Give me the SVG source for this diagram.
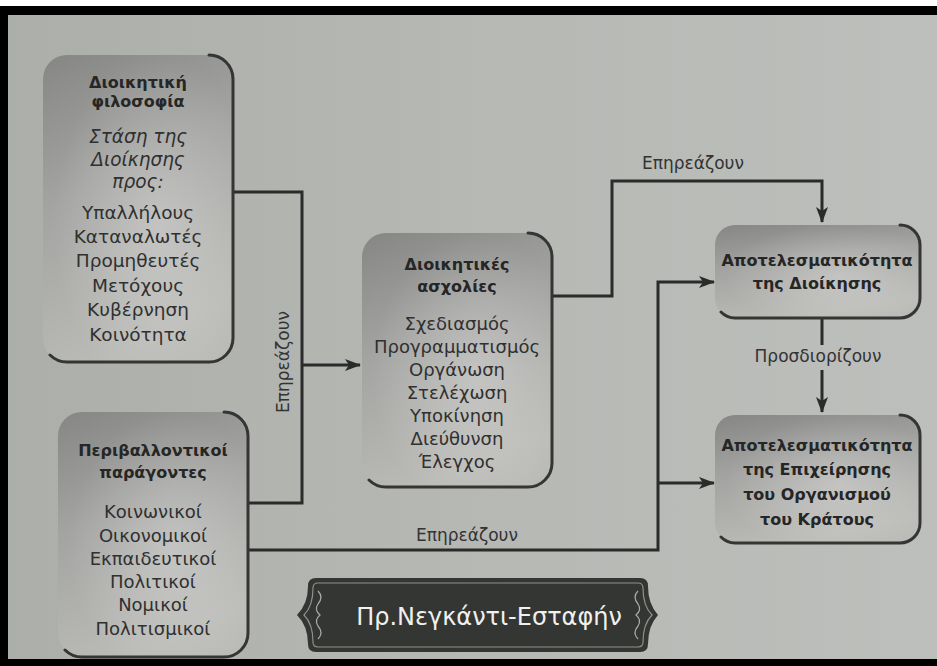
<svg xmlns="http://www.w3.org/2000/svg" width="937" height="666" viewBox="0 0 937 666">
  <defs>
    <linearGradient id="page" x1="0" y1="0" x2="1" y2="0">
      <stop offset="0" stop-color="#acaeaa"/>
      <stop offset="0.5" stop-color="#b6b8b4"/>
      <stop offset="1" stop-color="#bcbfbb"/>
    </linearGradient>
    <linearGradient id="nodeFill" x1="0" y1="0" x2="0.3" y2="1">
      <stop offset="0" stop-color="#868785"/>
      <stop offset="0.45" stop-color="#a3a4a1"/>
      <stop offset="1" stop-color="#babbb7"/>
    </linearGradient>
    <radialGradient id="nodeGlow" cx="0.6" cy="0.55" r="0.55">
      <stop offset="0" stop-color="#ffffff" stop-opacity="0.28"/>
      <stop offset="1" stop-color="#ffffff" stop-opacity="0"/>
    </radialGradient>
    <marker id="arrow" markerUnits="userSpaceOnUse" markerWidth="16" markerHeight="12" refX="15" refY="6" orient="auto">
      <path d="M0,0 L16,6 L0,12 L4,6 Z" fill="#2b2b2b"/>
    </marker>
    <style>
      .box { fill: url(#nodeFill); }
      .glow { fill: url(#nodeGlow); }
      .edge { fill: none; stroke: #353535; stroke-width: 3; stroke-linecap: round; }
      .title { font-family: "DejaVu Sans", "Liberation Sans", sans-serif; font-weight: bold; font-size: 16px; fill: #262626; text-anchor: middle; }
      .item { font-family: "DejaVu Sans", "Liberation Sans", sans-serif; font-size: 18px; fill: #303030; text-anchor: middle; }
      .big { font-size: 18.5px; }
      .ital { font-style: italic; }
      .wire { fill: none; stroke: #2b2b2b; stroke-width: 3; stroke-linejoin: miter; }
      .lbl { font-family: "DejaVu Sans", "Liberation Sans", sans-serif; font-size: 17px; fill: #333333; text-anchor: middle; }
      .banner-text { font-family: "DejaVu Sans", "Liberation Sans", sans-serif; font-size: 24px; fill: #f0f0ee; text-anchor: middle; }
    </style>
  </defs>

  <!-- page -->
  <rect x="0" y="0" width="937" height="666" fill="url(#page)"/>
  <rect x="0" y="0" width="937" height="6" fill="#ffffff"/>
  <rect x="0" y="6" width="937" height="9" fill="#000000"/>
  <rect x="0" y="6" width="8" height="660" fill="#000000"/>
  <rect x="0" y="659" width="937" height="7" fill="#000000"/>

  <!-- connectors -->
  <g id="connectors">
    <path class="wire" d="M233,192 H302 V503 H248"/>
    <path class="wire" d="M302,365 H360" marker-end="url(#arrow)"/>
    <path class="wire" d="M552,296 H612 V181 H822 V222" marker-end="url(#arrow)"/>
    <path class="wire" d="M248,550 H658 V282 H714" marker-end="url(#arrow)"/>
    <path class="wire" d="M658,483 H714" marker-end="url(#arrow)"/>
    <path class="wire" d="M822,318 V345"/>
    <path class="wire" d="M822,370 V412" marker-end="url(#arrow)"/>
    <text class="lbl" x="693" y="169">Επηρεάζουν</text>
    <text class="lbl" transform="translate(289,362) rotate(-90)">Επηρεάζουν</text>
    <text class="lbl" x="467" y="541">Επηρεάζουν</text>
    <text class="lbl" x="818" y="362">Προσδιορίζουν</text>
  </g>

  <!-- management philosophy -->
  <g id="node-philosophy">
    <rect class="box" x="43" y="55" width="190" height="307" rx="24"/>
    <rect class="glow" x="43" y="55" width="190" height="307" rx="24"/>
    <path class="edge" d="M209,55 A24,24 0 0 1 233,79 V338 A24,24 0 0 1 209,362 H67 A24,24 0 0 1 50,355"/>
    <text class="title" x="138" y="88">Διοικητική</text>
    <text class="title" x="138" y="107">φιλοσοφία</text>
    <text class="item big ital" x="138" y="143">Στάση της</text>
    <text class="item big ital" x="138" y="166">Διοίκησης</text>
    <text class="item big ital" x="138" y="188">προς:</text>
    <text class="item big" x="138" y="219">Υπαλλήλους</text>
    <text class="item big" x="138" y="243">Καταναλωτές</text>
    <text class="item big" x="138" y="267">Προμηθευτές</text>
    <text class="item big" x="138" y="292">Μετόχους</text>
    <text class="item big" x="138" y="316">Κυβέρνηση</text>
    <text class="item big" x="138" y="341">Κοινότητα</text>
  </g>

  <!-- environmental factors -->
  <g id="node-environment">
    <rect class="box" x="58" y="412" width="190" height="245" rx="24"/>
    <rect class="glow" x="58" y="412" width="190" height="245" rx="24"/>
    <path class="edge" d="M224,412 A24,24 0 0 1 248,436 V633 A24,24 0 0 1 224,657 H82 A24,24 0 0 1 65,650"/>
    <text class="title" x="153" y="456">Περιβαλλοντικοί</text>
    <text class="title" x="153" y="478">παράγοντες</text>
    <text class="item" x="153" y="518">Κοινωνικοί</text>
    <text class="item" x="153" y="542">Οικονομικοί</text>
    <text class="item" x="153" y="565">Εκπαιδευτικοί</text>
    <text class="item" x="153" y="588">Πολιτικοί</text>
    <text class="item" x="153" y="611">Νομικοί</text>
    <text class="item" x="153" y="635">Πολιτισμικοί</text>
  </g>

  <!-- management activities -->
  <g id="node-activities">
    <rect class="box" x="362" y="233" width="190" height="254" rx="24"/>
    <rect class="glow" x="362" y="233" width="190" height="254" rx="24"/>
    <path class="edge" d="M528,233 A24,24 0 0 1 552,257 V463 A24,24 0 0 1 528,487 H386 A24,24 0 0 1 369,480"/>
    <text class="title" x="457" y="270">Διοικητικές</text>
    <text class="title" x="457" y="292">ασχολίες</text>
    <text class="item" x="457" y="330">Σχεδιασμός</text>
    <text class="item" x="457" y="353">Προγραμματισμός</text>
    <text class="item" x="457" y="376">Οργάνωση</text>
    <text class="item" x="457" y="399">Στελέχωση</text>
    <text class="item" x="457" y="422">Υποκίνηση</text>
    <text class="item" x="457" y="445">Διεύθυνση</text>
    <text class="item" x="457" y="468">Έλεγχος</text>
  </g>

  <!-- management effectiveness -->
  <g id="node-mgmt-effectiveness">
    <rect class="box" x="715" y="225" width="205" height="93" rx="20"/>
    <rect class="glow" x="715" y="225" width="205" height="93" rx="20"/>
    <path class="edge" d="M900,225 A20,20 0 0 1 920,245 V298 A20,20 0 0 1 900,318 H735 A20,20 0 0 1 721,312"/>
    <text class="title" x="817" y="266">Αποτελεσματικότητα</text>
    <text class="title" x="817" y="289">της Διοίκησης</text>
  </g>

  <!-- organisation effectiveness -->
  <g id="node-org-effectiveness">
    <rect class="box" x="715" y="415" width="205" height="128" rx="20"/>
    <rect class="glow" x="715" y="415" width="205" height="128" rx="20"/>
    <path class="edge" d="M900,415 A20,20 0 0 1 920,435 V523 A20,20 0 0 1 900,543 H735 A20,20 0 0 1 721,537"/>
    <text class="title" x="817" y="451">Αποτελεσματικότητα</text>
    <text class="title" x="817" y="475">της Επιχείρησης</text>
    <text class="title" x="817" y="500">του Οργανισμού</text>
    <text class="title" x="817" y="525">του Κράτους</text>
  </g>

  <!-- author banner -->
  <g id="author-banner">
    <path d="M316,578 H640 Q648,578 648,586 Q648,604 658,615 Q648,626 648,644 Q648,652 640,652 H316 Q308,652 308,644 Q308,626 297,615 Q308,604 308,586 Q308,578 316,578 Z" fill="#343633"/>
    <path d="M318,583 H638 Q643,583 643,588 Q643,606 652,615 Q643,624 643,642 Q643,647 638,647 H318 Q313,647 313,642 Q313,624 304,615 Q313,606 313,588 Q313,583 318,583 Z" fill="none" stroke="#8e908c" stroke-width="1.2"/>
    <path d="M318,591 Q324,597 318,604 Q314,610 320,615 Q314,620 318,626 Q324,633 318,639" fill="none" stroke="#a9aba7" stroke-width="1.2"/>
    <path d="M638,591 Q632,597 638,604 Q642,610 636,615 Q642,620 638,626 Q632,633 638,639" fill="none" stroke="#a9aba7" stroke-width="1.2"/>
    <text class="banner-text" x="489" y="625">Πρ.Νεγκάντι-Εσταφήν</text>
  </g>
</svg>
